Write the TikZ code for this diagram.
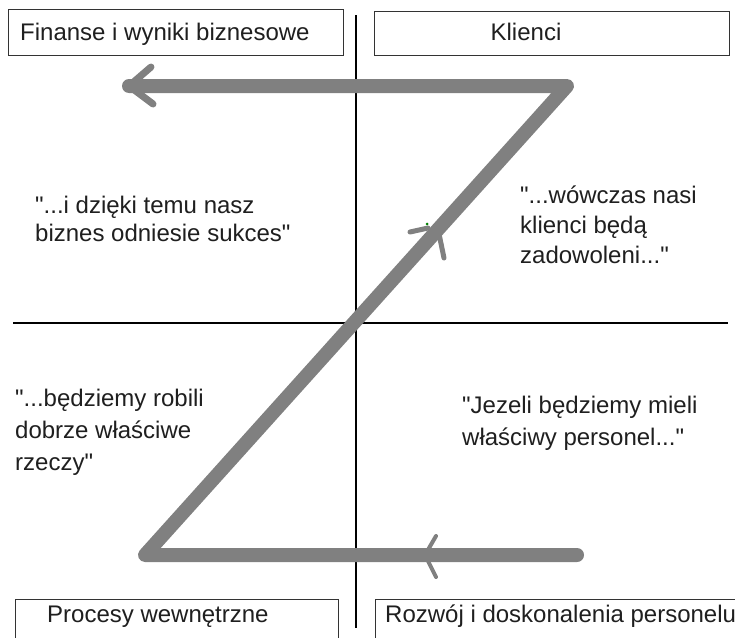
\documentclass[tikz,border=0pt]{standalone}
\usepackage{fontspec}
\setmainfont{Liberation Sans}[Ligatures=TeXOff]
\begin{document}
\begin{tikzpicture}[x=1pt,y=-1pt,
  lbl/.style={inner sep=0pt,anchor=base west,font=\fontsize{24}{28}\selectfont,text=black!88},
  boxn/.style={draw=black!80,line width=1.3pt,inner sep=0pt,anchor=north west},
  zline/.style={draw=zgray,line width=14pt,line join=round,line cap=round},
  barb/.style={draw=zgray,line cap=round,line join=round},
  axis/.style={draw=black,line width=2.3pt}]
\definecolor{zgray}{HTML}{808080}
\useasboundingbox (0,0) rectangle (735,637);
\clip (0,0) rectangle (735,637);
\fill[white] (0,0) rectangle (735,637);
% boxes
\node[boxn,minimum width=335pt,minimum height=46pt] (bfin) at (8,9) {};
\node[boxn,minimum width=355pt,minimum height=44pt] (bkl) at (374,11) {};
\node[boxn,minimum width=323pt,minimum height=50pt] (bproc) at (15,599) {};
\node[boxn,minimum width=370pt,minimum height=50pt] (brozw) at (375,599) {};
% box texts
\node[lbl] (tfin) at (20,40) {Finanse i wyniki biznesowe};
\node[lbl,anchor=base] (tkl) at (526,40) {Klienci};
\node[lbl] (tproc) at (47,622) {Procesy wewnętrzne};
\node[lbl] (trozw) at (385,622) {Rozwój i doskonalenia personelu};
% axes
\coordinate (vt) at (356,15);
\coordinate (vb) at (356,628);
\coordinate (hl) at (13,323);
\coordinate (hr) at (728,323);
\draw[axis] (vt) -- (vb);
\draw[axis,line width=2pt] (hl) -- (hr);
% Z path
\coordinate (zs) at (577,555);
\coordinate (zbl) at (145,555);
\coordinate (ztr) at (567,86);
\coordinate (ztip) at (129,86);
\draw[zline] (zs) -- (zbl) -- (ztr) -- (ztip);
% top arrow head
\coordinate (ah1) at (151,67);
\coordinate (ah2) at (153,104);
\draw[barb,line width=7pt] (ah1) -- (ztip) -- (ah2);
% bottom arrow head
\coordinate (bt) at (425,555);
\coordinate (bh1) at (436,536);
\coordinate (bh2) at (436,577);
\draw[barb,line width=4pt] (bh1) -- (bt) -- (bh2);
% middle arrow head
\coordinate (m1) at (410,232);
\coordinate (m2) at (428,228);
\coordinate (m3) at (438,229);
\coordinate (m4) at (444,258);
\draw[barb,line width=5pt] (m1) -- (m2);
\draw[barb,line width=5pt] (m3) -- (m4);
\fill[green!50!black] (427,224) circle (1.5);
% quadrant texts
\node[lbl] (q1a) at (35,213) {"...i dzięki temu nasz};
\node[lbl] (q1b) at (35,241) {biznes odniesie sukces"};
\node[lbl] (q2a) at (520,203) {"...wówczas nasi};
\node[lbl] (q2b) at (520,233) {klienci będą};
\node[lbl] (q2c) at (520,263) {zadowoleni..."};
\node[lbl] (q3a) at (15,406) {"...będziemy robili};
\node[lbl] (q3b) at (15,438) {dobrze właściwe};
\node[lbl] (q3c) at (15,470) {rzeczy"};
\node[lbl] (q4a) at (462,413) {"Jezeli będziemy mieli};
\node[lbl] (q4b) at (462,445) {właściwy personel..."};
\end{tikzpicture}
\end{document}
